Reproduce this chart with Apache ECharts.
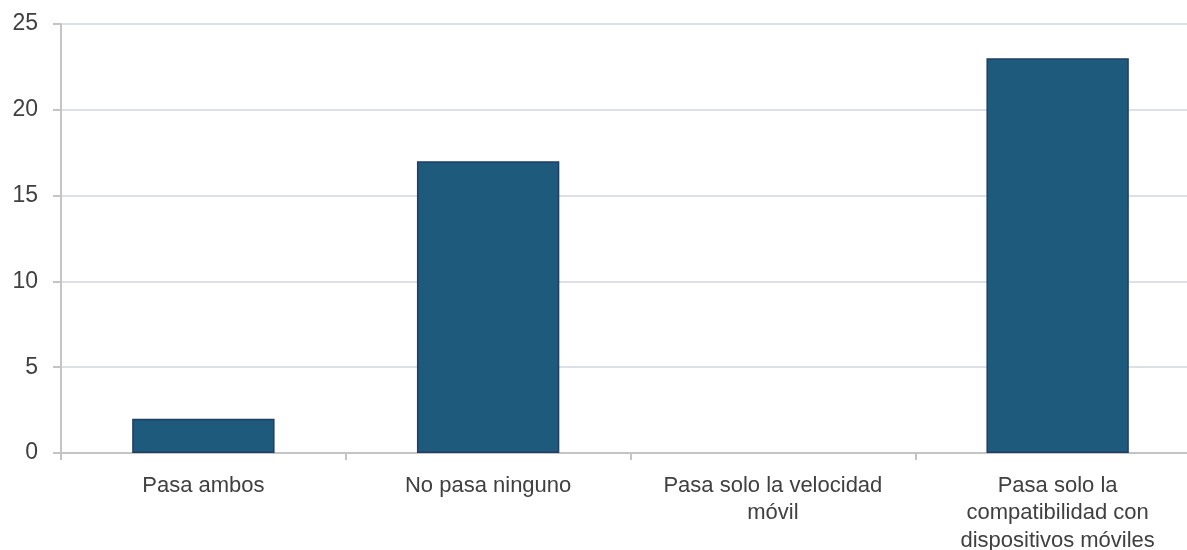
<!DOCTYPE html>
<html>
<head>
<meta charset="utf-8">
<script src="https://cdn.jsdelivr.net/npm/echarts@6/dist/echarts.min.js"></script>
<style>html,body{margin:0;padding:0;background:#fff}#c{width:1187px;height:550px}</style>
</head>
<body>
<div id="c"></div>
<script>
const categories = ["Pasa ambos", "No pasa ninguno", "Pasa solo la velocidad\nmóvil", "Pasa solo la\ncompatibilidad con\ndispositivos móviles"];
const values = [2, 17, 0, 23];
const yTicks = [0, 5, 10, 15, 20, 25];

const chart = echarts.init(document.getElementById('c'), null, {renderer: 'canvas'});
chart.setOption({
  animation: false,
  grid: {left: 61, width: 1139, top: 24, bottom: 97, containLabel: false, outerBoundsMode: 'none'},
  xAxis: {
    type: 'category',
    data: categories,
    axisLine: {lineStyle: {color: '#c4c4c4', width: 2}},
    axisTick: {show: true, length: 7, lineStyle: {color: '#c4c4c4', width: 2}},
    axisLabel: {color: '#404040', fontSize: 22, fontFamily: 'Liberation Sans, Arial, sans-serif', lineHeight: 27.5, margin: 19, interval: 0}
  },
  yAxis: {
    type: 'value',
    min: yTicks[0],
    max: yTicks[yTicks.length - 1],
    interval: 5,
    axisLine: {show: true, lineStyle: {color: '#c4c4c4', width: 2}},
    axisTick: {show: true, length: 8, lineStyle: {color: '#c4c4c4', width: 2}},
    axisLabel: {color: '#404040', fontSize: 23, fontFamily: 'Liberation Sans, Arial, sans-serif', margin: 23},
    splitLine: {show: true, lineStyle: {color: '#dde1e7', width: 2}}
  },
  series: [{
    type: 'bar',
    data: values.map(v => v === 0 ? {value: v, itemStyle: {borderWidth: 0}} : v),
    barWidth: '50%',
    itemStyle: {color: '#1d5a7b', borderColor: '#203d64', borderWidth: 1.5}
  }]
});
</script>
</body>
</html>
